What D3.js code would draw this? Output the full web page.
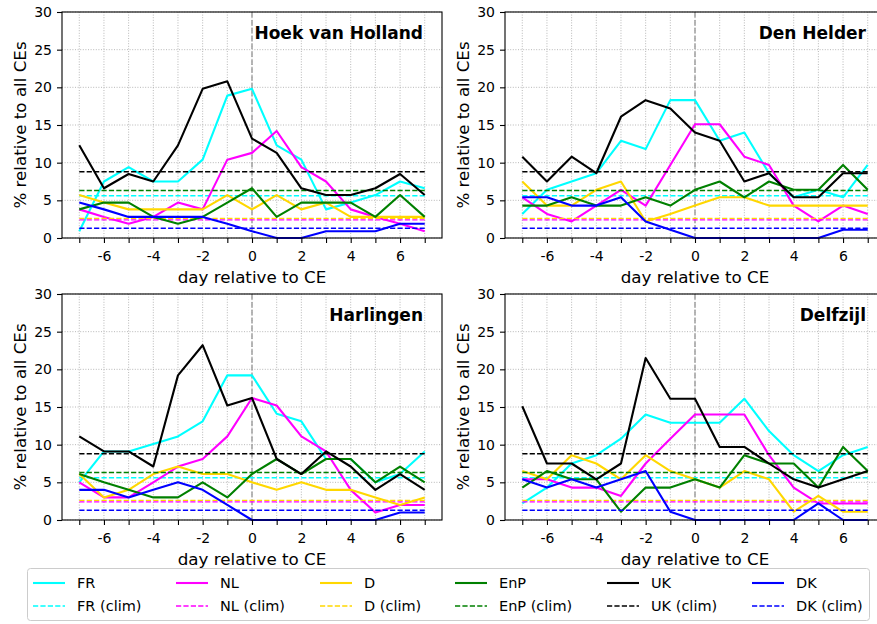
<!DOCTYPE html>
<html>
<head>
<meta charset="utf-8">
<script src="https://cdn.jsdelivr.net/npm/d3@7"></script>
<style>
  body { margin: 0; background: #fff; }
  svg { font-family: "DejaVu Sans", sans-serif; }
</style>
</head>
<body>
<script>
// days relative to the CE
var days = d3.range(-7, 8);

var countries = ["FR", "NL", "D", "EnP", "UK", "DK"];
var colors = ["#00ffff", "#ff00ff", "#ffd700", "#008000", "#000000", "#0000ff"];

// climatological share per country (%)
var climValues = [5.6, 2.4, 2.6, 6.3, 8.8, 1.3];

// rows follow the order of countries
var hoekVanHolland = [
  [0.9, 7.5, 9.4, 7.5, 7.5, 10.4, 18.9, 19.8, 12.3, 10.4, 3.8, 4.7, 5.7, 7.5, 6.6],
  [3.8, 2.8, 1.9, 2.8, 4.7, 3.8, 10.4, 11.3, 14.2, 9.4, 7.5, 3.8, 2.8, 1.9, 0.9],
  [5.7, 4.7, 3.8, 3.8, 3.8, 3.8, 5.7, 3.8, 5.7, 3.8, 4.7, 2.8, 2.8, 2.8, 2.8],
  [3.8, 4.7, 4.7, 2.8, 1.9, 2.8, 4.7, 6.6, 2.8, 4.7, 4.7, 4.7, 2.8, 5.7, 2.8],
  [12.3, 6.6, 8.5, 7.5, 12.3, 19.8, 20.8, 13.2, 11.3, 6.6, 5.7, 5.7, 6.6, 8.5, 5.7],
  [4.7, 3.8, 2.8, 2.8, 2.8, 2.8, 1.9, 0.9, 0, 0, 0.9, 0.9, 0.9, 1.9, 1.9]
];

var denHelder = [
  [3.2, 6.4, 7.5, 8.6, 12.9, 11.8, 18.3, 18.3, 12.9, 14.0, 8.6, 5.4, 6.4, 5.4, 9.7],
  [5.4, 3.2, 2.2, 4.3, 6.4, 4.3, 9.7, 15.1, 15.1, 10.8, 9.7, 4.3, 2.2, 4.3, 3.2],
  [7.5, 4.3, 4.3, 6.4, 7.5, 2.2, 3.2, 4.3, 5.4, 5.4, 4.3, 4.3, 4.3, 4.3, 4.3],
  [4.3, 4.3, 5.4, 4.3, 4.3, 5.4, 4.3, 6.4, 7.5, 5.4, 7.5, 6.4, 6.4, 9.7, 6.4],
  [10.8, 7.5, 10.8, 8.6, 16.1, 18.3, 17.2, 14.0, 12.9, 7.5, 8.6, 5.4, 5.4, 8.6, 8.6],
  [5.4, 5.4, 4.3, 4.3, 5.4, 2.2, 1.1, 0, 0, 0, 0, 0, 0, 1.1, 1.1]
];

var harlingen = [
  [5.0, 9.1, 9.1, 10.1, 11.1, 13.1, 19.2, 19.2, 14.1, 13.1, 8.1, 8.1, 5.0, 6.1, 9.1],
  [5.0, 3.0, 3.0, 5.0, 7.1, 8.1, 11.1, 16.2, 15.2, 11.1, 9.1, 4.0, 1.0, 2.0, 2.0],
  [6.1, 3.0, 4.0, 6.1, 7.1, 6.1, 6.1, 5.0, 4.0, 5.0, 4.0, 4.0, 3.0, 2.0, 3.0],
  [6.1, 5.0, 4.0, 3.0, 3.0, 5.0, 3.0, 6.1, 8.1, 6.1, 8.1, 8.1, 5.0, 7.1, 5.0],
  [11.1, 9.1, 9.1, 7.1, 19.2, 23.2, 15.2, 16.2, 8.1, 6.1, 9.1, 7.1, 4.0, 6.1, 4.0],
  [4.0, 4.0, 3.0, 4.0, 5.0, 4.0, 2.0, 0, 0, 0, 0, 0, 0, 1.0, 1.0]
];

var delfzijl = [
  [2.2, 4.3, 7.5, 8.6, 10.8, 14.0, 12.9, 12.9, 12.9, 16.1, 11.8, 8.6, 6.5, 8.6, 9.7],
  [5.4, 5.4, 4.3, 4.3, 3.2, 7.5, 10.8, 14.0, 14.0, 14.0, 8.6, 4.3, 2.2, 2.2, 2.2],
  [6.5, 5.4, 8.6, 7.5, 5.4, 8.6, 6.5, 5.4, 4.3, 6.5, 5.4, 1.1, 3.2, 1.1, 1.1],
  [4.3, 6.5, 5.4, 5.4, 1.1, 4.3, 4.3, 5.4, 4.3, 8.6, 7.5, 7.5, 4.3, 9.7, 6.5],
  [15.1, 7.5, 7.5, 5.4, 7.5, 21.5, 16.1, 16.1, 9.7, 9.7, 7.5, 5.4, 4.3, 5.4, 6.5],
  [5.4, 4.3, 5.4, 4.3, 5.4, 6.5, 1.1, 0, 0, 0, 0, 0, 2.2, 0, 0]
];

var stationNames = ["Hoek van Holland", "Den Helder", "Harlingen", "Delfzijl"];
var stationData = [hoekVanHolland, denHelder, harlingen, delfzijl];

var yTicks = [0, 5, 10, 15, 20, 25, 30];

var svgWidth = 877;
var svgHeight = 624;

// panel geometry
var panelW = 380, panelH = 226;
var colLeft = [62, 505];
var rowTop = [12, 294];

var svg = d3.select("body")
  .append("svg")
  .attr("width", svgWidth)
  .attr("height", svgHeight);

var x = d3.scaleLinear().domain([-7.7, 7.7]).range([0, panelW]);
var y = d3.scaleLinear().domain([0, 30]).range([panelH, 0]);

stationNames.forEach(function(name, i) {
  var g = svg.append("g")
    .attr("transform", "translate(" + colLeft[i % 2] + "," + rowTop[Math.floor(i / 2)] + ")");

  // grid
  g.append("g").selectAll("line").data(days).enter().append("line")
    .attr("x1", function(d) { return x(d); })
    .attr("x2", function(d) { return x(d); })
    .attr("y1", 0).attr("y2", panelH)
    .attr("stroke", "#b0b0b0").attr("stroke-width", 0.9)
    .attr("stroke-dasharray", "1,1.6");
  g.append("g").selectAll("line").data(yTicks).enter().append("line")
    .attr("x1", 0).attr("x2", panelW)
    .attr("y1", function(d) { return y(d); })
    .attr("y2", function(d) { return y(d); })
    .attr("stroke", "#b0b0b0").attr("stroke-width", 0.9)
    .attr("stroke-dasharray", "1,1.6");

  // day 0 marker
  g.append("line")
    .attr("x1", x(0)).attr("x2", x(0))
    .attr("y1", 0).attr("y2", panelH)
    .attr("stroke", "#a0a0a0").attr("stroke-width", 1.5)
    .attr("stroke-dasharray", "5.5,2.4");

  var line = d3.line()
    .x(function(d, k) { return x(days[k]); })
    .y(function(d) { return y(d); });

  var series = stationData[i];
  countries.forEach(function(c, j) {
    g.append("path")
      .datum(series[j])
      .attr("d", line)
      .attr("fill", "none")
      .attr("stroke", colors[j])
      .attr("stroke-width", 2.1)
      .attr("stroke-linejoin", "round");
    g.append("line")
      .attr("x1", x(-7)).attr("x2", x(7))
      .attr("y1", y(climValues[j])).attr("y2", y(climValues[j]))
      .attr("stroke", colors[j])
      .attr("stroke-width", 1.4)
      .attr("stroke-dasharray", "5.2,2.2");
  });

  // frame
  g.append("rect")
    .attr("width", panelW).attr("height", panelH)
    .attr("fill", "none").attr("stroke", "#000").attr("stroke-width", 1.1);

  var bottomAxis = d3.axisBottom(x)
    .tickValues(days)
    .tickSize(5).tickSizeOuter(0).tickPadding(8)
    .tickFormat(function(d) { return d % 2 === 0 ? String(d) : ""; });
  var leftAxis = d3.axisLeft(y)
    .tickValues(yTicks)
    .tickSize(5).tickSizeOuter(0).tickPadding(5);

  var xa = g.append("g").attr("transform", "translate(0," + panelH + ")").call(bottomAxis);
  var ya = g.append("g").call(leftAxis);
  [xa, ya].forEach(function(a) {
    a.select(".domain").remove();
    a.attr("font-family", null).attr("font-size", 14);
    a.selectAll("text").attr("fill", "#000");
    a.selectAll("line").attr("stroke", "#000").attr("stroke-width", 1.1);
  });

  g.append("text")
    .attr("x", panelW / 2).attr("y", panelH + 45)
    .attr("text-anchor", "middle").attr("font-size", 16.7)
    .text("day relative to CE");

  g.append("text")
    .attr("transform", "translate(-36.5," + panelH / 2 + ") rotate(-90)")
    .attr("text-anchor", "middle").attr("font-size", 16.7)
    .text("% relative to all CEs");

  g.append("text")
    .attr("x", panelW - 19).attr("y", 27)
    .attr("text-anchor", "end").attr("font-size", 17).attr("font-weight", "bold")
    .text(name);
});

// legend
var legend = svg.append("g");
legend.append("rect")
  .attr("x", 27.5).attr("y", 568.5).attr("width", 842).attr("height", 52)
  .attr("rx", 3).attr("fill", "#fff").attr("stroke", "#cccccc");

var colX = [33, 176, 320, 455, 607, 752];
countries.forEach(function(c, j) {
  [0, 1].forEach(function(r) {
    var yy = 583 + r * 23;
    legend.append("line")
      .attr("x1", colX[j]).attr("x2", colX[j] + 32)
      .attr("y1", yy).attr("y2", yy)
      .attr("stroke", colors[j])
      .attr("stroke-width", r === 0 ? 2.1 : 1.4)
      .attr("stroke-dasharray", r === 0 ? null : "5.2,2.2");
    legend.append("text")
      .attr("x", colX[j] + 44).attr("y", yy + 5)
      .attr("font-size", 14.5)
      .text(r === 0 ? c : c + " (clim)");
  });
});
</script>
</body>
</html>
